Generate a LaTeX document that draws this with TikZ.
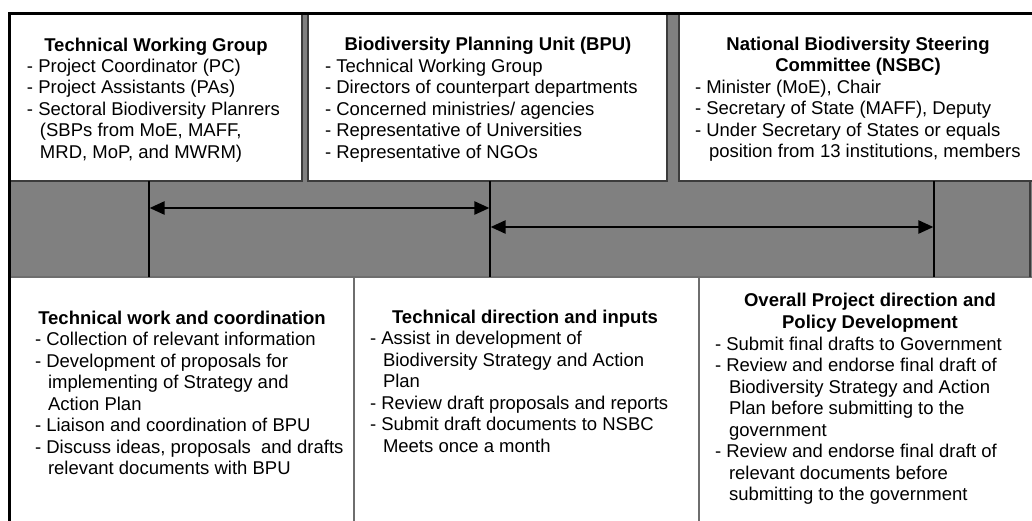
\documentclass[tikz,border=0pt]{standalone}
\usepackage{fontspec}
\setmainfont{Liberation Sans}
\usetikzlibrary{arrows.meta}
\definecolor{bandgray}{HTML}{808080}
\definecolor{edge}{HTML}{3C3C3C}
\definecolor{sepgray}{HTML}{6E6E6E}
\newcommand{\itemlines}[1]{\parbox[t]{340pt}{\raggedright #1}}
\newcommand{\titlelines}[1]{\parbox[t]{340pt}{\centering #1}}
\begin{document}
\begin{tikzpicture}[x=1pt,y=-1pt,
  wbox/.style={draw=edge,fill=white,line width=1.2pt,anchor=north west,inner sep=0pt,outer sep=0pt},
  bbox/.style={draw=sepgray,fill=white,line width=1.5pt,anchor=north west,inner sep=0pt,outer sep=0pt},
  txt/.style={inner sep=0pt,outer sep=0pt,anchor=base west,font=\fontsize{18.5}{21.5}\selectfont},
  ttl/.style={inner sep=0pt,outer sep=0pt,anchor=base,font=\fontsize{18.5}{21.5}\selectfont\bfseries},
  link/.style={draw=black,line width=1.2pt},
  dbl/.style={draw=black,line width=2.4pt,{Triangle[length=15pt,width=13pt]}-{Triangle[length=15pt,width=13pt]}}
]
\useasboundingbox (0,0) rectangle (1032,520);
% grey background
\fill[bandgray] (8,13) rectangle (1040,530);
% top boxes
\node[wbox,minimum width=293pt,minimum height=167pt] (b1) at (9,14) {};
\node[wbox,minimum width=359pt,minimum height=167pt] (b2) at (308,14) {};
\node[wbox,minimum width=360pt,minimum height=167pt] (b3) at (679,14) {};
% bottom boxes
\node[bbox,minimum width=345pt,minimum height=260pt] (b4) at (9,277) {};
\node[bbox,minimum width=345pt,minimum height=260pt] (b5) at (354,277) {};
\node[bbox,minimum width=340pt,minimum height=260pt] (b6) at (699,277) {};
% right edge of band
\coordinate (re1) at (1030,181);
\coordinate (re2) at (1030,277);
\draw[edge,line width=1.2pt] (re1) -- (re2);
% outer frame (top and left)
\draw[black,line width=2.6pt] (9.3,530) -- (9.3,13.3) -- (1040,13.3);
% vertical links
\coordinate (v1a) at (149,181); \coordinate (v1b) at (149,277);
\coordinate (v2a) at (490,181); \coordinate (v2b) at (490,277);
\coordinate (v3a) at (934,181); \coordinate (v3b) at (934,277);
\draw[link] (v1a) -- (v1b);
\draw[link] (v2a) -- (v2b);
\draw[link] (v3a) -- (v3b);
% arrows
\coordinate (a1l) at (149.6,208); \coordinate (a1r) at (489.4,208);
\coordinate (a2l) at (490.6,227); \coordinate (a2r) at (933.4,227);
\draw[dbl] (a1l) -- (a1r);
\draw[dbl] (a2l) -- (a2r);
% texts top
\node[ttl] (t1) at (156,51) {\titlelines{Technical Working Group}};
\node[txt] (i1) at (27,72) {\itemlines{- Project Coordinator (PC)\\- Project Assistants (PAs)\\- Sectoral Biodiversity Planrers\\\hspace*{13pt}(SBPs from MoE, MAFF,\\\hspace*{13pt}MRD, MoP, and MWRM)}};
\node[ttl] (t2) at (488,50) {\titlelines{Biodiversity Planning Unit (BPU)}};
\node[txt] (i2) at (325,72) {\itemlines{- Technical Working Group\\- Directors of counterpart departments\\- Concerned ministries/ agencies\\- Representative of Universities\\- Representative of NGOs}};
\node[ttl] (t3) at (858,50) {\titlelines{National Biodiversity Steering\\Committee (NSBC)}};
\node[txt] (i3) at (695,93) {\itemlines{- Minister (MoE), Chair\\- Secretary of State (MAFF), Deputy\\- Under Secretary of States or equals\\\hspace*{14pt}position from 13 institutions, members}};
% texts bottom
\node[ttl] (t4) at (182,324) {\titlelines{Technical work and coordination}};
\node[txt] (i4) at (35,345.5) {\itemlines{- Collection of relevant information\\- Development of proposals for\\\hspace*{13pt}implementing of Strategy and\\\hspace*{13pt}Action Plan\\- Liaison and coordination of BPU\\- Discuss ideas, proposals\ \ and drafts\\\hspace*{13pt}relevant documents with BPU}};
\node[ttl] (t5) at (525,323) {\titlelines{Technical direction and inputs}};
\node[txt] (i5) at (370,344.5) {\itemlines{- Assist in development of\\\hspace*{13pt}Biodiversity Strategy and Action\\\hspace*{13pt}Plan\\- Review draft proposals and reports\\- Submit draft documents to NSBC\\\hspace*{13pt}Meets once a month}};
\node[ttl] (t6) at (870,306.5) {\titlelines{Overall Project direction and\\Policy Development}};
\node[txt] (i6) at (715,350) {\itemlines{- Submit final drafts to Government\\- Review and endorse final draft of\\\hspace*{14pt}Biodiversity Strategy and Action\\\hspace*{14pt}Plan before submitting to the\\\hspace*{14pt}government\\- Review and endorse final draft of\\\hspace*{14pt}relevant documents before\\\hspace*{14pt}submitting to the government}};
\end{tikzpicture}
\end{document}
